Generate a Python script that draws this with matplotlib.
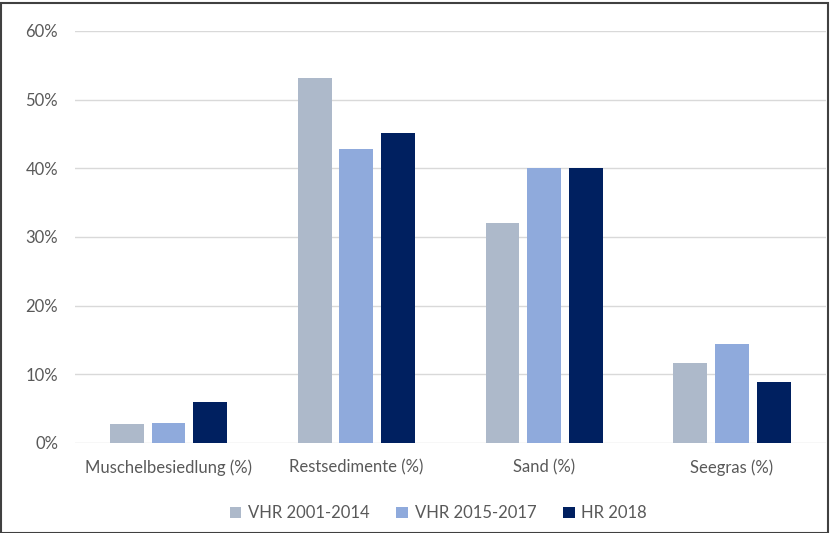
import numpy as np
import matplotlib.pyplot as plt
from matplotlib.ticker import PercentFormatter
from matplotlib.patches import Rectangle

plt.rcParams['font.family'] = ['Lato', 'DejaVu Sans']

categories = ['Muschelbesiedlung (%)', 'Restsedimente (%)', 'Sand (%)', 'Seegras (%)']
series = ['VHR 2001-2014', 'VHR 2015-2017', 'HR 2018']
vhr_2001_2014 = [2.7, 53.2, 32.0, 11.7]
vhr_2015_2017 = [2.9, 42.8, 40.0, 14.4]
hr_2018 = [5.9, 45.1, 40.0, 8.9]
colors = ['#ADB9CA', '#8FAADC', '#002060']

values = [vhr_2001_2014, vhr_2015_2017, hr_2018]

fig = plt.figure(figsize=(8.3, 5.33), dpi=100)
ax = fig.add_axes([0.09, 0.169, 0.905, 0.773])

x = np.arange(len(categories))
w = 0.18
step = 0.222
for i, (vals, name, c) in enumerate(zip(values, series, colors)):
    ax.bar(x + (i - 1) * step, vals, width=w, color=c, label=name, zorder=3)

ax.set_xlim(-0.5, len(categories) - 0.5)
ax.set_ylim(0, 60)
ax.set_yticks(np.arange(0, 61, 10))
ax.yaxis.set_major_formatter(PercentFormatter(decimals=0))
ax.set_xticks(x)
ax.set_xticklabels(categories)
ax.grid(axis='y', color='#D9D9D9', linewidth=1, zorder=0)
for s in ax.spines.values():
    s.set_visible(False)
ax.tick_params(axis='both', length=0, colors='#595959', labelsize=12)
ax.tick_params(axis='x', pad=12)
ax.tick_params(axis='y', pad=12)

ax.legend(loc='upper center', bbox_to_anchor=(0.484, -0.115), ncol=3, frameon=False,
          fontsize=12, labelcolor='#595959', handlelength=0.7, handleheight=0.7,
          columnspacing=1.6, handletextpad=0.4)

fig.patches.append(Rectangle((0.001, 0.0), 0.997, 0.995, transform=fig.transFigure,
                             fill=False, edgecolor='#404040', linewidth=1.5))

fig.savefig('out.png', dpi=100)
